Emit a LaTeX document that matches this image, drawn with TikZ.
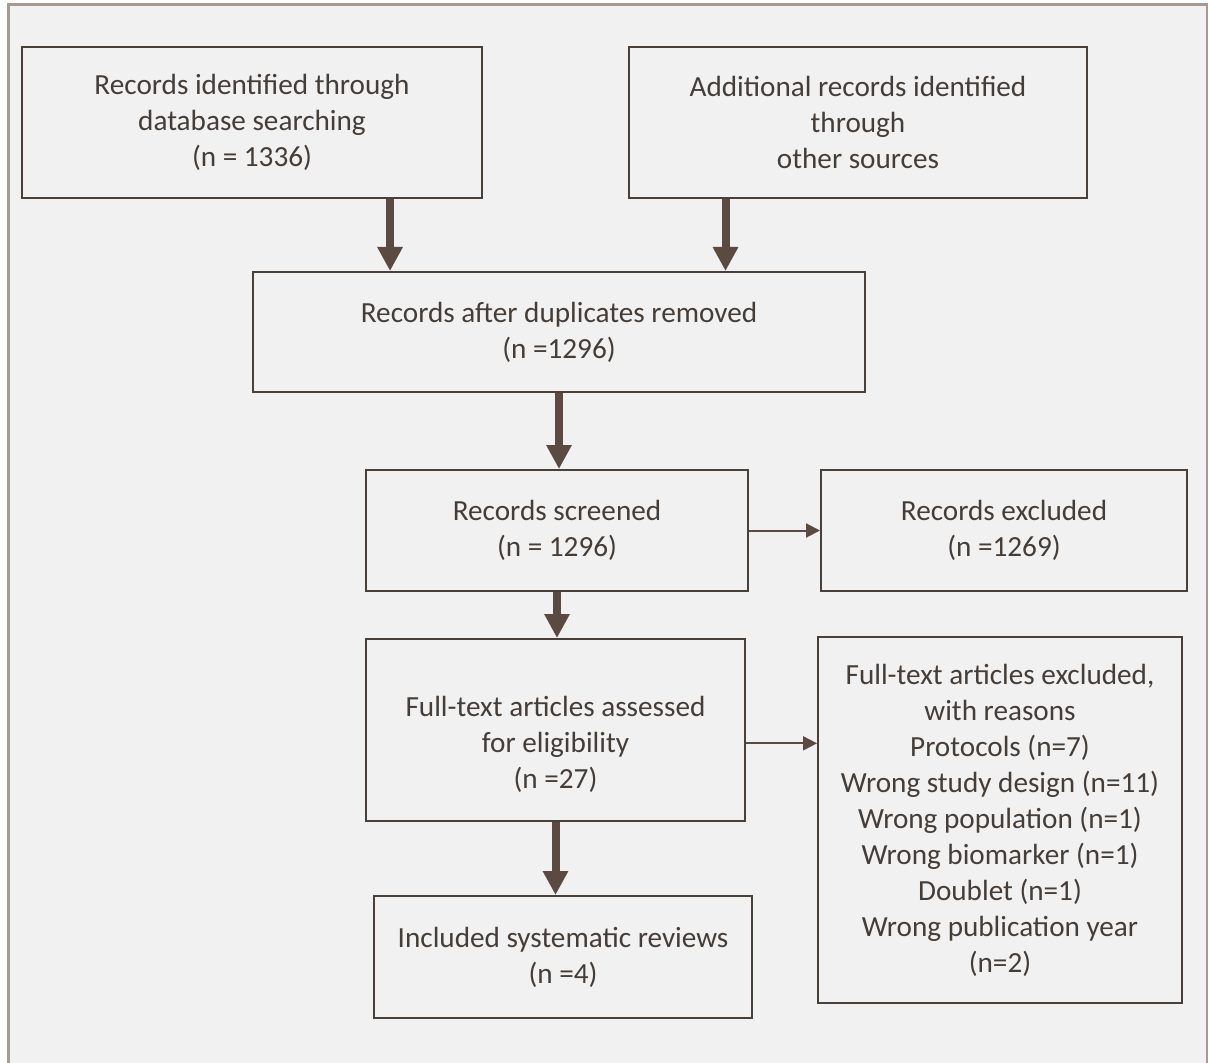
\documentclass[tikz,border=0pt]{standalone}
\usepackage{fontspec}
\setmainfont{Carlito}
\usepackage{xcolor}
\usetikzlibrary{arrows.meta}
\usetikzlibrary{positioning}

\definecolor{frameline}{HTML}{A89A90}
\definecolor{panel}{HTML}{F1F1F1}
\definecolor{arrowline}{HTML}{5A4A42}
\definecolor{boxline}{HTML}{4A403A}
\definecolor{boxtext}{HTML}{453D38}

\begin{document}
\begin{tikzpicture}[x=0.5pt, y=-0.5pt,
  box/.style={draw=boxline, line width=1pt, fill=panel, align=center, inner sep=0pt,
    text=boxtext, font=\fontsize{14.6}{18}\selectfont},
  bigarrow/.style={draw=arrowline, line width=4pt, -{Triangle[length=12pt, width=12pt]}},
  thinarrow/.style={draw=arrowline, line width=1pt, -{Triangle[length=7pt, width=7pt]}}]

\useasboundingbox (0,0) rectangle (1208,1063);

% Panel
\draw[frameline, line width=1.5pt, fill=panel] (8,1080) -- (8,5) -- (1207,5) -- (1207,1080);

% Identification
\node[box, minimum width=230pt, minimum height=75.5pt] at (252,122.5) (b1)
  {Records identified through\\database searching\\(n = 1336)};
\node[box, minimum width=229pt, minimum height=75.5pt] at (858,122.5) (b2)
  {Additional records identified\\through\\other sources};

% Duplicates
\node[box, minimum width=306pt, minimum height=60pt] at (559,332) (b3)
  {Records after duplicates removed\\(n =1296)};

% Screening
\node[box, minimum width=191pt, minimum height=60.5pt] at (557,530.5) (b4)
  {Records screened\\(n = 1296)};
\node[box, minimum width=183pt, minimum height=60.5pt] at (1004,530.5) (b5)
  {Records excluded\\(n =1269)};

% Eligibility
\node[box, minimum width=189.5pt, minimum height=91pt] at (555.5,730) (b6)
  {\rule{0pt}{25pt}Full-text articles assessed\\for eligibility\\(n =27)};
\node[box, minimum width=182pt, minimum height=183pt] at (1000,820) (b7)
  {Full-text articles excluded,\\with reasons\\Protocols (n=7)\\Wrong study design (n=11)\\Wrong population (n=1)\\Wrong biomarker (n=1)\\Doublet (n=1)\\Wrong publication year\\(n=2)};

% Included
\node[box, minimum width=189pt, minimum height=61pt] at (563,957) (b8)
  {Included systematic reviews\\(n =4)};

% Arrows
\draw[bigarrow] (b1.-29.5) -- (b1.-29.5 |- b3.north);
\draw[bigarrow] (b2.-150.5) -- (b2.-150.5 |- b3.north);
\draw[bigarrow] (b3.south) -- (b3.south |- b4.north);
\draw[bigarrow] (b4.south) -- (b4.south |- b6.north);
\draw[bigarrow] (b6.south) -- (b6.south |- b8.north);
\draw[thinarrow] (b4.east) -- (b5.west);
\draw[thinarrow] (b6.-4) -- (b6.-4 -| b7.west);

\end{tikzpicture}
\end{document}
